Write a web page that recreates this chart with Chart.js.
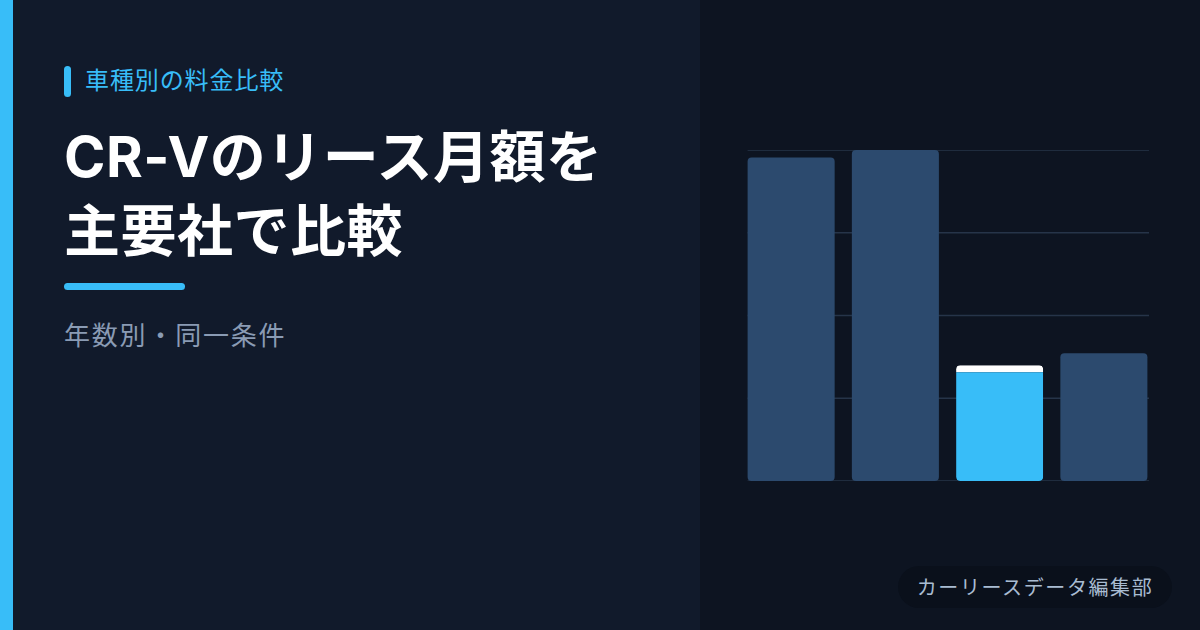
<!DOCTYPE html>
<html lang="ja">
<head>
<meta charset="utf-8">
<script src="https://cdn.jsdelivr.net/npm/chart.js@4.4.1/dist/chart.umd.min.js"></script>
<style>
  html, body { margin: 0; padding: 0; }
  body {
    width: 1200px; height: 630px; overflow: hidden; position: relative;
    background: #111a2b;
    font-family: "Noto Sans CJK JP", "Noto Sans", sans-serif;
  }
  .stripe { position: absolute; left: 0; top: 0; width: 13px; height: 630px; background: #38bdf8; }
  .rightPanel { position: absolute; left: 700px; top: 0; width: 500px; height: 630px; background: #0d1421; }
  .labelBar { position: absolute; left: 64px; top: 66px; width: 7px; height: 31px; border-radius: 4px; background: #38bdf8; }
  .label { position: absolute; left: 85px; top: 64px; font-size: 24px; line-height: 30px; color: #38bdf8; letter-spacing: 0.9px; }
  .title {
    position: absolute; left: 64px; top: 120px; font-size: 56px; line-height: 74px; font-weight: 700; color: #ffffff;
    font-family: "Inter", "Noto Sans CJK JP", sans-serif; letter-spacing: 0.5px;
  }
  .underline { position: absolute; left: 64px; top: 283px; width: 121px; height: 7px; border-radius: 4px; background: #38bdf8; }
  .sub { position: absolute; left: 64px; top: 318px; font-size: 26px; line-height: 32px; color: #8a9bb4; letter-spacing: 1.8px; }
  .chartBox { position: absolute; left: 739px; top: 150px; width: 417px; height: 331px; }
  .badge {
    position: absolute; left: 898px; top: 566px; width: 274px; height: 42px; border-radius: 21px;
    background: #0a101b; color: #a9bcd2; font-size: 20px; line-height: 42px; text-align: center; letter-spacing: 1.6px;
  }
</style>
</head>
<body>
<div class="stripe"></div>
<div class="rightPanel"></div>
<div class="labelBar"></div>
<div class="label">車種別の料金比較</div>
<div class="title">CR-Vのリース月額を<br>主要社で比較</div>
<div class="underline"></div>
<div class="sub">年数別・同一条件</div>
<div class="chartBox"><canvas id="chart"></canvas></div>
<div class="badge">カーリースデータ編集部</div>

<script>
// データ（月額・円、目盛りは表示なし）
const companies = ['A社', 'B社', 'C社', 'D社'];
const monthlyFee = [78200, 80000, 28000, 30900];
const gridTicks = [0, 20000, 40000, 60000, 80000];
const highlightIndex = 2;

// 横の目盛り線は棒の幅に合わせて自前で描く
const gridPlugin = {
    id: 'gridPlugin',
    beforeDatasetsDraw(chart) {
        const { ctx, chartArea, scales } = chart;
        const bar = chart.getDatasetMeta(0).data[0];
        const left = bar.x - bar.width / 2;
        const right = chartArea.right - 7;
        ctx.save();
        ctx.strokeStyle = '#263449';
        ctx.lineWidth = 1.5;
        gridTicks.forEach(v => {
            const y = scales.y.getPixelForValue(v);
            ctx.beginPath();
            ctx.moveTo(left, y);
            ctx.lineTo(right, y);
            ctx.stroke();
        });
        ctx.restore();
    }
};

onload = () => {
    const ctx = document.getElementById('chart').getContext('2d');
    new Chart(ctx, {
        type: 'bar',
        data: {
            labels: companies,
            datasets: [{
                data: monthlyFee,
                backgroundColor: companies.map((c, i) => i === highlightIndex ? '#38bdf8' : '#2c4a6e'),
                borderColor: '#ffffff',
                borderWidth: c => c.dataIndex === highlightIndex ? { top: 7, left: 0, right: 0, bottom: 0 } : 0,
                borderSkipped: false,
                borderRadius: 4,
                barPercentage: 0.835,
                categoryPercentage: 1
            }]
        },
        options: {
            responsive: true,
            maintainAspectRatio: false,
            animation: false,
            layout: { padding: 0 },
            plugins: { legend: { display: false }, tooltip: { enabled: false } },
            scales: {
                x: { display: false },
                y: { display: false, min: 0, max: 80000 }
            }
        },
        plugins: [gridPlugin]
    });
};
</script>
</body>
</html>
